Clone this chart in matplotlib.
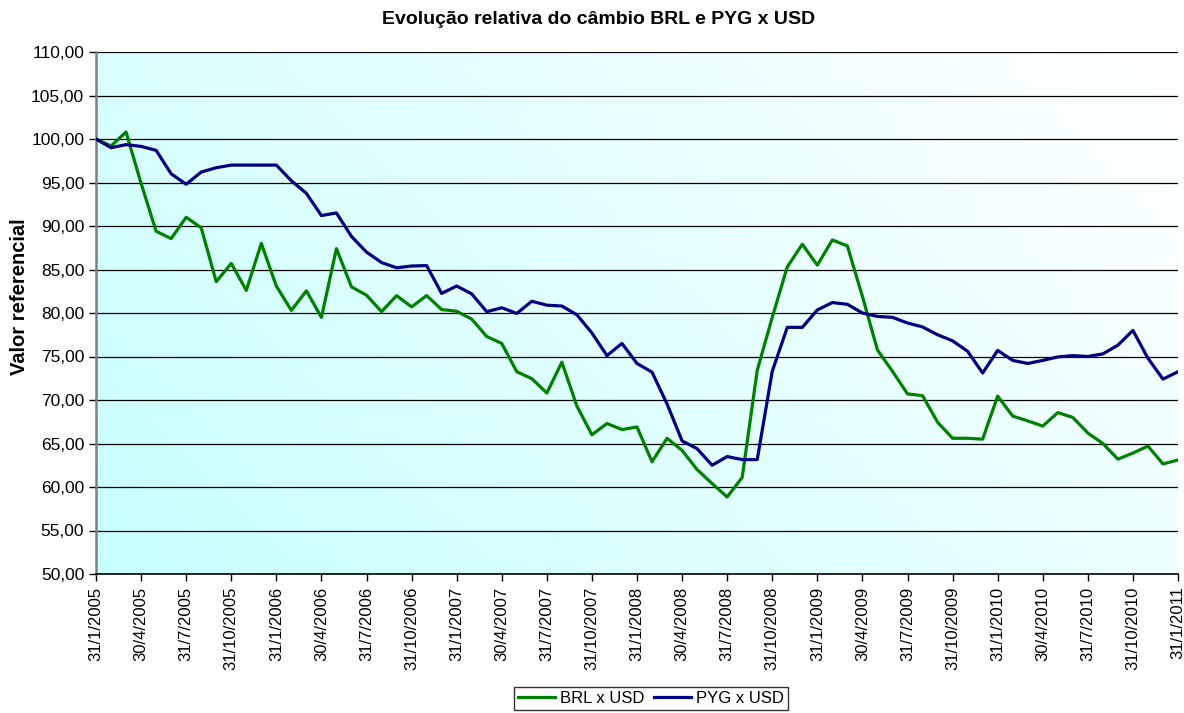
import numpy as np
import matplotlib
matplotlib.use("Agg")
import matplotlib.pyplot as plt
from matplotlib.colors import LinearSegmentedColormap

plt.rcParams['font.family'] = ['Liberation Sans', 'DejaVu Sans']

# monthly index values, 31/1/2005 .. 31/1/2011 (base 100)
brl_usd = [100.0, 99.2, 100.8, 94.9, 89.4, 88.55, 91.0, 89.8, 83.6, 85.7,
           82.6, 88.0, 83.1, 80.3, 82.55, 79.5, 87.4, 83.0, 82.05, 80.15,
           82.0, 80.7, 82.0, 80.4, 80.2, 79.3, 77.3, 76.5, 73.25, 72.45,
           70.8, 74.35, 69.3, 66.0, 67.3, 66.6, 66.9, 62.9, 65.6, 64.2,
           62.0, 60.4, 58.85, 61.1, 73.4, 79.5, 85.3, 87.9, 85.5, 88.4,
           87.7, 81.9, 75.75, 73.3, 70.7, 70.5, 67.45, 65.6, 65.6, 65.5,
           70.45, 68.15, 67.6, 67.0, 68.55, 68.0, 66.2, 65.0, 63.2, 63.9,
           64.7, 62.65, 63.1]
pyg_usd = [100.0, 99.0, 99.35, 99.15, 98.7, 96.0, 94.8, 96.2, 96.7, 97.0,
           97.0, 97.0, 97.0, 95.2, 93.75, 91.2, 91.5, 88.8, 87.0, 85.8,
           85.2, 85.4, 85.45, 82.25, 83.1, 82.2, 80.15, 80.6, 79.95, 81.35,
           80.9, 80.8, 79.8, 77.7, 75.1, 76.5, 74.2, 73.2, 69.55, 65.3,
           64.4, 62.5, 63.5, 63.15, 63.15, 73.3, 78.35, 78.35, 80.35, 81.2,
           81.0, 80.0, 79.6, 79.5, 78.85, 78.4, 77.5, 76.8, 75.6, 73.1,
           75.7, 74.55, 74.2, 74.55, 74.95, 75.1, 75.0, 75.3, 76.3, 78.0,
           74.8, 72.4, 73.25]

tick_labels = ['31/1/2005', '30/4/2005', '31/7/2005', '31/10/2005',
               '31/1/2006', '30/4/2006', '31/7/2006', '31/10/2006',
               '31/1/2007', '30/4/2007', '31/7/2007', '31/10/2007',
               '31/1/2008', '30/4/2008', '31/7/2008', '31/10/2008',
               '31/1/2009', '30/4/2009', '31/7/2009', '31/10/2009',
               '31/1/2010', '30/4/2010', '31/7/2010', '31/10/2010',
               '31/1/2011']

x = np.arange(len(brl_usd))

fig = plt.figure(figsize=(11.84, 7.13), dpi=100)
ax = fig.add_axes([96/1184, 1-574/713, (1178-96)/1184, (574-52)/713])

# diagonal cyan -> white background
gx, gy = np.meshgrid(np.linspace(0, 1, 300), np.linspace(0, 1, 300))
grad = (gx * 1082 + gy * 522) / (1082 + 522)
cmap = LinearSegmentedColormap.from_list('bg', ['#c8ffff', '#ffffff'])
ax.imshow(grad, cmap=cmap, origin='lower', extent=[0, 1, 0, 1],
          transform=ax.transAxes, aspect='auto', zorder=0)

for v in range(55, 111, 5):
    ax.axhline(v, color='black', lw=0.9, zorder=1)

ax.plot(x, brl_usd, color='#008000', lw=2.3, label='BRL x USD', zorder=3)
ax.plot(x, pyg_usd, color='#000080', lw=2.3, label='PYG x USD', zorder=3)

ax.set_xlim(0, len(x) - 1)
ax.set_ylim(50, 110)
ax.set_yticks(range(50, 111, 5))
ax.set_yticklabels(['{:.2f}'.format(v).replace('.', ',') for v in range(50, 111, 5)],
                   fontsize=12.5)
ax.set_xticks(x[::3])
ax.set_xticklabels(tick_labels, rotation=90, fontsize=12)
ax.tick_params(axis='both', direction='out', length=5, width=1, color='black')
ax.tick_params(axis='x', pad=4)

ax.spines['right'].set_visible(False)
ax.spines['top'].set_visible(False)
ax.spines['left'].set_color('#808080')
ax.spines['left'].set_linewidth(1.8)
ax.spines['bottom'].set_linewidth(1.2)

fig.text(599/1184, 1-20/713, 'Evolução relativa do câmbio BRL e PYG x USD',
         ha='center', va='center', fontsize=14, fontweight='bold')
fig.text(20/1184, 1-297/713, 'Valor referencial', rotation=90,
         ha='center', va='center', fontsize=14.5, fontweight='bold')

leg = fig.legend(loc='upper center', bbox_to_anchor=(651/1184, 1-687/713),
                 ncol=2, fontsize=12, frameon=True, fancybox=False,
                 edgecolor='black', handlelength=2.2, handletextpad=0.3,
                 columnspacing=0.6, borderpad=0.25, borderaxespad=0)
leg.get_frame().set_linewidth(1.0)

fig.savefig('out.png', dpi=100)
